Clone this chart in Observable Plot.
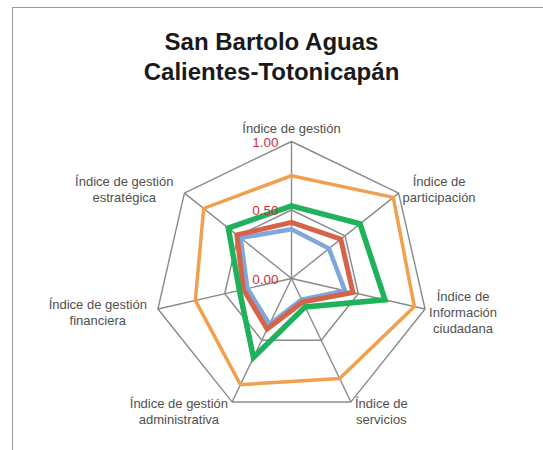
<!DOCTYPE html>
<html><head><meta charset="utf-8">
<script src="https://cdn.jsdelivr.net/npm/d3@7"></script>
<script src="https://cdn.jsdelivr.net/npm/@observablehq/plot@0.6"></script>
<style>
html,body{margin:0;padding:0;background:#fff;}
#wrap{position:relative;width:543px;height:450px;overflow:hidden;}
#frame{position:absolute;left:11.5px;top:7px;width:600px;height:500px;border:1px solid #9a9a9a;}
#title{position:absolute;left:0;top:27px;width:543px;text-align:center;font:bold 24px "Liberation Sans",Arial,sans-serif;line-height:30px;color:#1a1a1a;}
#chart{position:absolute;left:0;top:0;}
</style></head><body>
<div id="wrap"><div id="frame"></div><div id="chart"></div><div id="title">San Bartolo Aguas<br>Calientes-Totonicapán</div></div>
<script>
// ---- data ----
const categories = [
  "Índice de gestión",
  "Índice de\nparticipación",
  "Índice de\nInformación\nciudadana",
  "Índice de\nservicios",
  "Índice de gestión\nadministrativa",
  "Índice de gestión\nfinanciera",
  "Índice de gestión\nestratégica"
];
const seriesNames = ["Serie 1", "Serie 2", "Serie 3", "Serie 4"];
const serie1 = [0.75, 0.95, 0.92, 0.81, 0.86, 0.72, 0.82];   // naranja
const serie2 = [0.36, 0.35, 0.40, 0.17, 0.37, 0.33, 0.475];  // azul
const serie3 = [0.41, 0.46, 0.46, 0.19, 0.41, 0.36, 0.51];   // rojo
const serie4 = [0.53, 0.64, 0.70, 0.23, 0.64, 0.39, 0.59];   // verde
const tickValues = [0, 0.5, 1];
const tickLabels = ["0.00", "0.50", "1.00"];
const gridLevels = [0.5, 1];

// ---- styles / layout ----
const W = 543, H = 450, CX = 291, CY = 278, R = 137;
const seriesStyle = [
  {color: "#F0A04E", width: 3.5},
  {color: "#7FA7DB", width: 4.5},
  {color: "#D4634A", width: 5},
  {color: "#20B15B", width: 5.5}
];
const allSeries = [serie1, serie2, serie3, serie4];
const n = categories.length;
const ang = i => 2 * Math.PI * i / n;

function ring(values, name) {
  const pts = values.map((v, i) => ({s: name, x: v * Math.sin(ang(i)), y: v * Math.cos(ang(i))}));
  pts.push(pts[0]);
  return pts;
}

const gridData = gridLevels.flatMap(l => ring(categories.map(() => l), "g" + l));
const spokes = categories.map((c, i) => ({x2: Math.sin(ang(i)), y2: Math.cos(ang(i))}));

// label placement (centered multi-line text next to each outer vertex)
const labelFont = 13;
const ctx = document.createElement("canvas").getContext("2d");
ctx.font = `${labelFont}px "Liberation Sans"`;
const labelData = categories.map((c, i) => {
  const s = Math.sin(ang(i)), co = Math.cos(ang(i));
  const gap = s < -0.7 ? 11 : 4;
  const halfW = d3.max(c.split("\n"), t => ctx.measureText(t).width) / 2;
  const xoff = Math.abs(s) < 0.1 ? 0 : Math.sign(s) * (halfW + gap);
  const yoff = co > 0.9 ? -14 : -co * 9 + 1;
  return {text: c, x: s + xoff / R, y: co - yoff / R};
});

const marks = [
  Plot.line(gridData, {x: "x", y: "y", z: "s", stroke: "#8a8a8a", strokeWidth: 1.4, strokeLinejoin: "miter"}),
  Plot.link(spokes, {x1: () => 0, y1: () => 0, x2: "x2", y2: "y2", stroke: "#8a8a8a", strokeWidth: 1.4})
];
allSeries.forEach((vals, k) => {
  marks.push(Plot.line(ring(vals, seriesNames[k]), {
    x: "x", y: "y", stroke: seriesStyle[k].color, strokeWidth: seriesStyle[k].width,
    strokeLinejoin: "miter", strokeMiterlimit: 10
  }));
});
marks.push(Plot.text(tickValues, {
  x: () => 0, y: d => d, text: (d, i) => tickLabels[i], textAnchor: "end", dx: -13, dy: 1,
  fill: "#C8323C", fontSize: 13.5, fontFamily: "Liberation Sans"
}));
marks.push(Plot.text(labelData, {
  x: "x", y: "y", text: "text", textAnchor: "middle", lineAnchor: "middle", lineHeight: 1.25,
  fill: "#505050", fontSize: labelFont, fontFamily: "Liberation Sans"
}));

const chart = Plot.plot({
  width: W, height: H, margin: 0,
  style: {background: "transparent", overflow: "visible"},
  x: {axis: null, domain: [-CX / R, (W - CX) / R], range: [0, W]},
  y: {axis: null, domain: [-(H - CY) / R, CY / R], range: [H, 0]},
  marks
});
document.getElementById("chart").appendChild(chart);
</script>
</body></html>
